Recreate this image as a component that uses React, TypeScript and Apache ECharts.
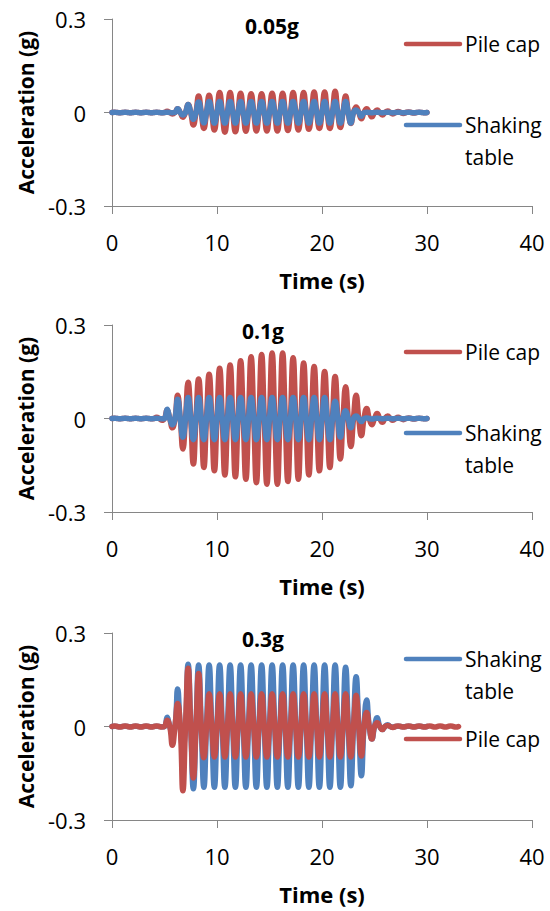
import React, { useEffect, useRef } from "react";
import * as echarts from "echarts";

const RED = "#C0504D";
const BLUE = "#4F81BD";
const FONT = "'Open Sans', 'Liberation Sans', sans-serif";

// Time axis ticks (s) and acceleration ticks (g)
const timeTicks = [0, 10, 20, 30, 40];
const accelTicks = [-0.3, 0, 0.3];
const panelTitles = ["0.05g", "0.1g", "0.3g"];

// Peak amplitudes (g) read per 1-s cycle k: positive peak near k+0.25 s, negative peak near k+0.75 s
// Panel 1: 0.05g
const pileCap005Pos = [0.001, 0.001, 0.001, 0.001, 0.001, 0.004, 0.012, 0.026, 0.053, 0.055, 0.064, 0.064, 0.062, 0.060, 0.060, 0.062, 0.062, 0.064, 0.064, 0.066, 0.066, 0.068, 0.053, 0.018, 0.012, 0.008, 0.005, 0.003, 0.002, 0.001];
const pileCap005Neg = [0.001, 0.001, 0.001, 0.001, 0.001, 0.005, 0.015, 0.040, 0.051, 0.056, 0.063, 0.062, 0.060, 0.059, 0.059, 0.059, 0.058, 0.056, 0.054, 0.051, 0.051, 0.048, 0.035, 0.020, 0.014, 0.008, 0.005, 0.003, 0.002, 0.001];
const table005Pos = [0.001, 0.001, 0.001, 0.001, 0.001, 0.001, 0.012, 0.026, 0.034, 0.035, 0.035, 0.035, 0.035, 0.035, 0.035, 0.035, 0.035, 0.035, 0.035, 0.035, 0.035, 0.035, 0.035, 0.008, 0.001, 0.001, 0.001, 0.001, 0.001, 0.001];
const table005Neg = [0.001, 0.001, 0.001, 0.001, 0.001, 0.001, 0.008, 0.022, 0.033, 0.034, 0.034, 0.034, 0.034, 0.034, 0.034, 0.034, 0.034, 0.034, 0.034, 0.034, 0.034, 0.034, 0.034, 0.012, 0.001, 0.001, 0.001, 0.001, 0.001, 0.001];

// Panel 2: 0.1g
const pileCap01Pos = [0.001, 0.001, 0.001, 0.001, 0.004, 0.027, 0.075, 0.116, 0.127, 0.142, 0.161, 0.172, 0.185, 0.198, 0.205, 0.210, 0.210, 0.195, 0.178, 0.167, 0.151, 0.135, 0.102, 0.075, 0.032, 0.016, 0.008, 0.004, 0.002, 0.001];
const pileCap01Neg = [0.001, 0.001, 0.001, 0.001, 0.006, 0.030, 0.098, 0.146, 0.157, 0.168, 0.181, 0.187, 0.195, 0.206, 0.211, 0.211, 0.202, 0.195, 0.181, 0.168, 0.157, 0.130, 0.090, 0.055, 0.020, 0.012, 0.006, 0.004, 0.002, 0.001];
const table01Pos = [0.001, 0.001, 0.001, 0.001, 0.001, 0.030, 0.062, 0.067, 0.067, 0.067, 0.067, 0.067, 0.067, 0.067, 0.067, 0.067, 0.067, 0.067, 0.067, 0.067, 0.067, 0.055, 0.025, 0.008, 0.002, 0.001, 0.001, 0.001, 0.001, 0.001];
const table01Neg = [0.001, 0.001, 0.001, 0.001, 0.001, 0.020, 0.060, 0.068, 0.068, 0.068, 0.068, 0.068, 0.068, 0.068, 0.068, 0.068, 0.068, 0.068, 0.068, 0.068, 0.068, 0.060, 0.030, 0.010, 0.002, 0.001, 0.001, 0.001, 0.001, 0.001];

// Panel 3: 0.3g
const table03Pos = [0.001, 0.001, 0.001, 0.001, 0.001, 0.030, 0.120, 0.200, 0.197, 0.197, 0.197, 0.197, 0.197, 0.197, 0.197, 0.197, 0.197, 0.197, 0.197, 0.197, 0.197, 0.197, 0.190, 0.160, 0.085, 0.028, 0.006, 0.001, 0.001, 0.001];
const table03Neg = [0.001, 0.001, 0.001, 0.001, 0.001, 0.020, 0.070, 0.200, 0.195, 0.195, 0.195, 0.195, 0.195, 0.195, 0.195, 0.195, 0.195, 0.195, 0.195, 0.195, 0.195, 0.195, 0.190, 0.158, 0.040, 0.010, 0.002, 0.001, 0.001, 0.001];
const pileCap03Pos = [0.002, 0.002, 0.002, 0.002, 0.002, 0.020, 0.074, 0.187, 0.170, 0.105, 0.105, 0.105, 0.105, 0.105, 0.105, 0.105, 0.105, 0.105, 0.105, 0.105, 0.105, 0.105, 0.105, 0.100, 0.045, 0.012, 0.003, 0.002, 0.002, 0.002, 0.002, 0.002, 0.002];
const pileCap03Neg = [0.002, 0.002, 0.002, 0.002, 0.002, 0.060, 0.206, 0.165, 0.100, 0.098, 0.098, 0.098, 0.098, 0.098, 0.098, 0.098, 0.098, 0.098, 0.098, 0.098, 0.098, 0.098, 0.098, 0.095, 0.040, 0.010, 0.003, 0.002, 0.002, 0.002, 0.002, 0.002, 0.002];

function wave(pos: number[], neg: number[]): [number, number][] {
  const pts: [number, number][] = [];
  for (let k = 0; k < pos.length; k++) {
    pts.push([k, 0]);
    pts.push([k + 0.25, pos[k]]);
    pts.push([k + 0.5, 0]);
    pts.push([k + 0.75, -neg[k]]);
  }
  pts.push([pos.length, 0]);
  return pts;
}

const GRID_TOPS = [19, 325, 633];
const GRID_H = 187;
const GRID_LEFT = 112;
const GRID_W = 420;

export default function App() {
  const ref = useRef<HTMLDivElement>(null);

  useEffect(() => {
    if (!ref.current) return;
    const chart = echarts.init(ref.current, null, { renderer: "svg" });

    const grids = GRID_TOPS.map((t) => ({ left: GRID_LEFT, top: t, width: GRID_W, height: GRID_H, containLabel: false }));

    const xAxes = GRID_TOPS.map((_, i) => ({
      type: "value",
      gridIndex: i,
      min: timeTicks[0],
      max: timeTicks[timeTicks.length - 1],
      interval: 10,
      position: "bottom",
      name: "Time (s)",
      nameLocation: "middle",
      nameGap: 63,
      nameTextStyle: { fontFamily: FONT, fontSize: 22, fontWeight: "bold", color: "#000" },
      axisLine: { show: true, onZero: false, lineStyle: { color: "#868686", width: 1 } },
      axisTick: { show: true, inside: false, length: 8, lineStyle: { color: "#868686" } },
      axisLabel: { fontFamily: FONT, fontSize: 22, color: "#000", margin: 25 },
      splitLine: { show: false },
    }));

    const yAxes = GRID_TOPS.map((_, i) => ({
      type: "value",
      gridIndex: i,
      min: accelTicks[0],
      max: accelTicks[accelTicks.length - 1],
      interval: 0.3,
      name: "Acceleration (g)",
      nameLocation: "middle",
      nameGap: 76,
      nameTextStyle: { fontFamily: FONT, fontSize: 21, fontWeight: "bold", color: "#000" },
      axisLine: { show: true, onZero: false, lineStyle: { color: "#868686", width: 1 } },
      axisTick: { show: true, inside: false, length: 8, lineStyle: { color: "#868686" } },
      axisLabel: {
        fontFamily: FONT,
        fontSize: 22,
        color: "#000",
        margin: 26,
        formatter: (v: number) => String(Math.round(v * 10) / 10),
      },
      splitLine: { show: false },
    }));

    const line = (name: string, color: string, data: [number, number][], idx: number, z: number) => ({
      type: "line",
      name,
      xAxisIndex: idx,
      yAxisIndex: idx,
      data,
      smooth: true,
      showSymbol: false,
      symbol: "none",
      z,
      lineStyle: { color, width: 5.5, cap: "round", join: "round" },
      itemStyle: { color },
    });

    const series = [
      line("Pile cap", RED, wave(pileCap005Pos, pileCap005Neg), 0, 2),
      line("Shaking table", BLUE, wave(table005Pos, table005Neg), 0, 3),
      line("Pile cap", RED, wave(pileCap01Pos, pileCap01Neg), 1, 2),
      line("Shaking table", BLUE, wave(table01Pos, table01Neg), 1, 3),
      line("Shaking table", BLUE, wave(table03Pos, table03Neg), 2, 2),
      line("Pile cap", RED, wave(pileCap03Pos, pileCap03Neg), 2, 3),
    ];

    const titleX = [272, 263, 263];
    const titleY = [26, 331, 639];

    const legendEl = (color: string, label: string, y: number) => [
      {
        type: "line",
        shape: { x1: 406, y1: y, x2: 460, y2: y },
        style: { stroke: color, lineWidth: 4.5, lineCap: "round" },
        z: 10,
      },
      {
        type: "text",
        x: 465,
        y: y - 16,
        style: {
          text: label,
          fontFamily: FONT,
          fontSize: 21,
          fill: "#000",
          lineHeight: 32,
          verticalAlign: "top",
          align: "left",
        },
        z: 10,
      },
    ];

    const graphic: any[] = [
      ...panelTitles.map((t, i) => ({
        type: "text",
        x: titleX[i],
        y: titleY[i],
        style: { text: t, fontFamily: FONT, fontSize: 21, fontWeight: "bold", fill: "#000", align: "center", verticalAlign: "middle" },
        z: 10,
      })),
      ...legendEl(RED, "Pile cap", 44),
      ...legendEl(BLUE, "Shaking\ntable", 125),
      ...legendEl(RED, "Pile cap", 352),
      ...legendEl(BLUE, "Shaking\ntable", 433),
      ...legendEl(BLUE, "Shaking\ntable", 659),
      ...legendEl(RED, "Pile cap", 739),
    ];

    chart.setOption({
      animation: false,
      backgroundColor: "#fff",
      grid: grids,
      xAxis: xAxes,
      yAxis: yAxes,
      series,
      graphic,
    });

    return () => chart.dispose();
  }, []);

  return (
    <div
      ref={ref}
      style={{ position: "absolute", left: 0, top: 0, width: 550, height: 911, background: "#fff" }}
    />
  );
}
